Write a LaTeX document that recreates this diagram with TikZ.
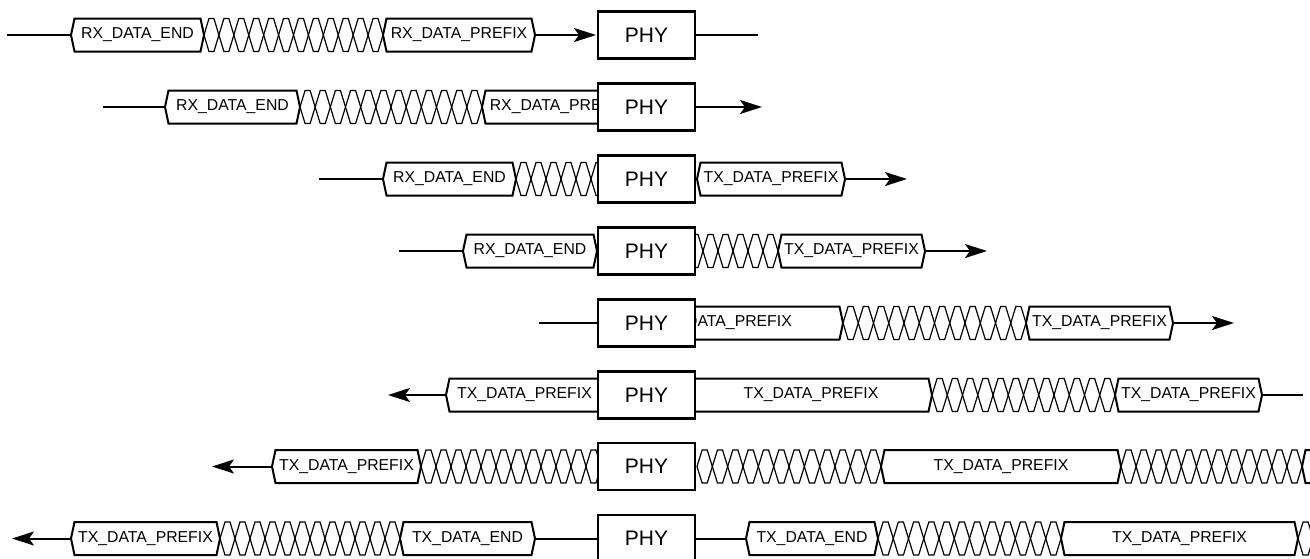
\documentclass[tikz,border=0pt]{standalone}
\usepackage{fontspec}
\setmainfont{Liberation Sans}
\usetikzlibrary{arrows.meta}
\tikzset{
  sig/.style={line width=1pt, line join=miter},
  zig/.style={line width=0.6pt},
  conn/.style={line width=1pt},
  arr/.style={conn, -{Stealth[length=11pt,width=7pt,inset=2.5pt]}},
  phy/.style={draw, line width=1.1pt, fill=white, minimum width=48.5pt, minimum height=23.5pt, inner sep=0pt, font=\fontsize{10.5}{12}\selectfont},
  lab/.style={inner sep=0pt, font=\fontsize{7.9}{9}\selectfont},
}
\newcommand{\hexb}[5]{%
  \draw[sig] (#2,#4) -- (#2+3.5,#4-16.5) -- (#3-3.5,#4-16.5) -- (#3,#4) -- (#3-3.5,#4+16.5) -- (#2+3.5,#4+16.5) -- cycle;
  \node[lab] (#1) at ({(#2+#3)/2},#4) {#5};
  \coordinate (#1-w) at (#2,#4);
  \coordinate (#1-e) at (#3,#4);
}
\newcommand{\zz}[4]{%
  \pgfmathsetmacro{\zw}{(#2-#1)/#3}%
  \pgfmathsetmacro{\zd}{\zw/3}%
  \foreach \k in {1,...,#3} {%
    \pgfmathsetmacro{\za}{#1+(\k-1)*\zw}%
    \pgfmathsetmacro{\zb}{#1+\k*\zw}%
    \draw[zig] (\za,#4) -- (\za+\zd,#4-16.5) -- (\zb-\zd,#4-16.5) -- (\zb,#4) -- (\zb-\zd,#4+16.5) -- (\za+\zd,#4+16.5) -- cycle;
  }%
}
\begin{document}
\begin{tikzpicture}[x=0.5pt,y=-0.5pt]
\useasboundingbox (0,0) rectangle (1310,558);
\clip (0,0) rectangle (1310,558);
% ---------- Row 1
\coordinate (s1) at (7,35);
\hexb{r1a}{71}{204}{35}{RX\_DATA\_END}
\zz{204}{383}{12}{35}
\hexb{r1b}{383}{535}{35}{RX\_DATA\_PREFIX}
\node[phy] (p1) at (646.5,35) {PHY};
\coordinate (t1) at (596,35);
\coordinate (e1) at (758,35);
\draw[conn] (s1) -- (r1a-w);
\draw[arr] (r1b-e) -- (t1);
\draw[conn] (p1.east) -- (e1);
% ---------- Row 2
\coordinate (s2) at (103,107);
\hexb{r2a}{165}{300}{107}{RX\_DATA\_END}
\zz{300}{482}{12}{107}
\hexb{r2b}{482}{634}{107}{RX\_DATA\_PREFIX}
\node[phy] (p2) at (646.5,107) {PHY};
\coordinate (e2) at (762,107);
\draw[conn] (s2) -- (r2a-w);
\draw[arr] (p2.east) -- (e2);
% ---------- Row 3
\coordinate (s3) at (319,179);
\hexb{r3a}{383}{516}{179}{RX\_DATA\_END}
\zz{516}{606}{6}{179}
\node[phy] (p3) at (646.5,179) {PHY};
\hexb{r3b}{697}{845}{179}{TX\_DATA\_PREFIX}
\coordinate (e3) at (907,179);
\draw[conn] (s3) -- (r3a-w);
\draw[arr] (r3b-e) -- (e3);
% ---------- Row 4
\coordinate (s4) at (399,251);
\hexb{r4a}{463}{597}{251}{RX\_DATA\_END}
\zz{688}{778}{6}{251}
\node[phy] (p4) at (646.5,251) {PHY};
\hexb{r4b}{778}{925}{251}{TX\_DATA\_PREFIX}
\coordinate (e4) at (987,251);
\draw[conn] (s4) -- (r4a-w);
\draw[arr] (r4b-e) -- (e4);
% ---------- Row 5
\coordinate (s5) at (539,323);
\hexb{r5a}{606}{843}{323}{TX\_DATA\_PREFIX}
\zz{843}{1026}{12}{323}
\hexb{r5b}{1026}{1173}{323}{TX\_DATA\_PREFIX}
\node[phy] (p5) at (646.5,323) {PHY};
\coordinate (e5) at (1234,323);
\draw[conn] (s5) -- (p5.west);
\draw[arr] (r5b-e) -- (e5);
% ---------- Row 6
\coordinate (e6l) at (388,395);
\hexb{r6a}{446}{603}{395}{TX\_DATA\_PREFIX}
\hexb{r6b}{690}{932}{395}{TX\_DATA\_PREFIX}
\zz{932}{1115}{12}{395}
\hexb{r6c}{1115}{1262}{395}{TX\_DATA\_PREFIX}
\node[phy] (p6) at (646.5,395) {PHY};
\coordinate (e6r) at (1303,395);
\draw[arr] (r6a-w) -- (e6l);
\draw[conn] (r6c-e) -- (e6r);
% ---------- Row 7
\coordinate (e7l) at (212,466.5);
\hexb{r7a}{272}{421}{466.5}{TX\_DATA\_PREFIX}
\zz{421}{601}{12}{466.5}
\zz{697}{881}{12}{466.5}
\hexb{r7b}{881}{1121}{466.5}{TX\_DATA\_PREFIX}
\zz{1121}{1302}{12}{466.5}
\hexb{r7c}{1302}{1452}{466.5}{TX\_DATA\_PREFIX}
\node[phy] (p7) at (646.5,466.5) {PHY};
\draw[arr] (r7a-w) -- (e7l);
% ---------- Row 8
\coordinate (e8l) at (12,538.5);
\hexb{r8a}{71}{220}{538.5}{TX\_DATA\_PREFIX}
\zz{220}{400}{12}{538.5}
\hexb{r8b}{400}{535}{538.5}{TX\_DATA\_END}
\node[phy] (p8) at (646.5,538.5) {PHY};
\hexb{r8c}{746}{878}{538.5}{TX\_DATA\_END}
\zz{878}{1061}{12}{538.5}
\hexb{r8d}{1061}{1298}{538.5}{TX\_DATA\_PREFIX}
\zz{1298}{1480}{12}{538.5}
\draw[arr] (r8a-w) -- (e8l);
\draw[conn] (r8b-e) -- (p8.west);
\draw[conn] (p8.east) -- (r8c-w);
\end{tikzpicture}
\end{document}
